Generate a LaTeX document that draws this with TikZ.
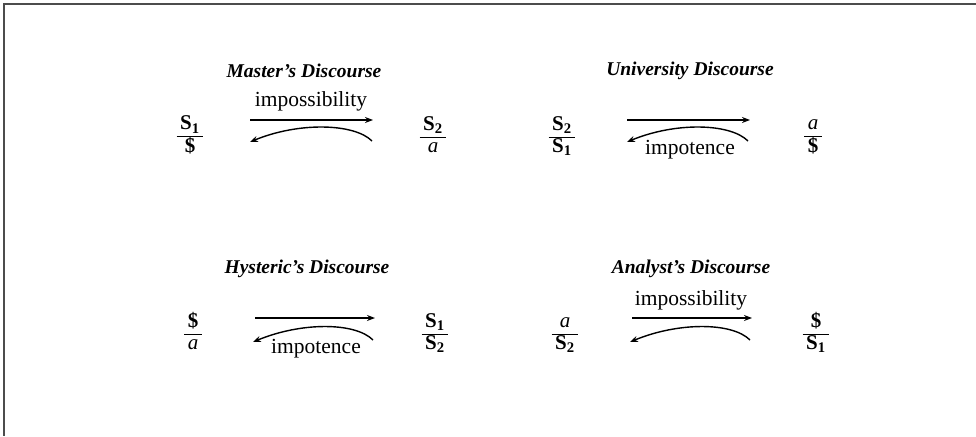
\documentclass[tikz,border=0pt]{standalone}
\usepackage{fontspec}
\setmainfont{Liberation Serif}
\usetikzlibrary{arrows.meta}
\newcommand\lacfrac[2]{{\setlength\arrayrulewidth{1pt}\renewcommand\arraystretch{0.9}\begin{tabular}{@{\,}c@{\,}}#1\\\hline #2\end{tabular}}}
\newcommand\LSig[1]{\textbf{S}\textsubscript{\textbf{#1}}}
\newcommand\LBar{\textbf{\$}}
\begin{document}
\begin{tikzpicture}[x=1pt,y=-1pt,
  ttl/.style={font=\fontsize{19.5}{22}\selectfont\bfseries\itshape},
  lbl/.style={font=\fontsize{21.5}{24}\selectfont},
  frc/.style={font=\fontsize{21}{24}\selectfont, inner sep=0pt},
  arr/.style={line width=1.4pt, -{Stealth[length=8pt,width=6pt]}},
  frame/.style={draw=gray!60!black, line width=1.6pt}]
\useasboundingbox (0,0) rectangle (976,436);
\draw[frame] (976,4) -- (4,4) -- (4,436);

% Master's
\node[ttl] (mt) at (304,71) {Master's Discourse};
\node[lbl] (ml) at (311,101) {impossibility};
\node[frc] (m1) at (190,137) {\lacfrac{\LSig{1}}{\LBar}};
\node[frc] (m2) at (433,137) {\lacfrac{\LSig{2}}{\textit{a}}};
\draw[arr, shorten <=60pt, shorten >=60pt] ([yshift=17pt]m1.center) -- ([yshift=17pt]m2.center);
\draw[arr] ([shift={(-61pt,-4pt)}]m2.center) .. controls +(-18pt,18pt) and +(48pt,20pt) .. ([shift={(60pt,-5pt)}]m1.center);

% University
\node[ttl] (ut) at (690,71) {University Discourse};
\node[lbl] (ul) at (690,150) {impotence};
\node[frc] (u1) at (562,137) {\lacfrac{\LSig{2}}{\LSig{1}}};
\node[frc] (u2) at (813,137) {\lacfrac{\textit{a}}{\LBar}};
\draw[arr, shorten <=65pt, shorten >=63pt] ([yshift=17pt]u1.center) -- ([yshift=17pt]u2.center);
\draw[arr] ([shift={(-65pt,-4pt)}]u2.center) .. controls +(-18pt,18pt) and +(48pt,20pt) .. ([shift={(65pt,-5pt)}]u1.center);

% Hysteric's
\node[ttl] (ht) at (307,269) {Hysteric's Discourse};
\node[lbl] (hl) at (316,349) {impotence};
\node[frc] (h1) at (193,334) {\lacfrac{\LBar}{\textit{a}}};
\node[frc] (h2) at (435,334) {\lacfrac{\LSig{1}}{\LSig{2}}};
\draw[arr, shorten <=62pt, shorten >=60pt] ([yshift=16pt]h1.center) -- ([yshift=16pt]h2.center);
\draw[arr] ([shift={(-62pt,-6pt)}]h2.center) .. controls +(-18pt,18pt) and +(48pt,20pt) .. ([shift={(60pt,-8pt)}]h1.center);

% Analyst's
\node[ttl] (at) at (691,269) {Analyst's Discourse};
\node[lbl] (al) at (691,300) {impossibility};
\node[frc] (a1) at (565,334) {\lacfrac{\textit{a}}{\LSig{2}}};
\node[frc] (a2) at (816,334) {\lacfrac{\LBar}{\LSig{1}}};
\draw[arr, shorten <=67pt, shorten >=64pt] ([yshift=16pt]a1.center) -- ([yshift=16pt]a2.center);
\draw[arr] ([shift={(-66pt,-6pt)}]a2.center) .. controls +(-18pt,18pt) and +(48pt,20pt) .. ([shift={(65pt,-8pt)}]a1.center);
\end{tikzpicture}
\end{document}
